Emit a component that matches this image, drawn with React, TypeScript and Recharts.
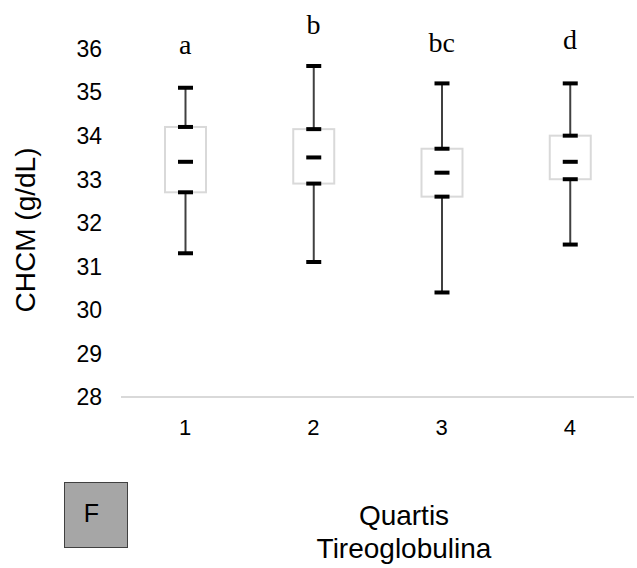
import React from "react";
import { ComposedChart, Bar, Scatter, XAxis, YAxis } from "recharts";

const categories = ["1", "2", "3", "4"];
const minValues = [31.3, 31.1, 30.4, 31.5];
const q1Values = [32.7, 32.9, 32.6, 33.0];
const medianValues = [33.4, 33.5, 33.15, 33.4];
const q3Values = [34.2, 34.15, 33.7, 34.0];
const maxValues = [35.1, 35.6, 35.2, 35.2];
const letters = ["a", "b", "bc", "d"];
const letterY = [35.87, 36.33, 35.91, 35.99];
const yTicks = [28, 29, 30, 31, 32, 33, 34, 35, 36];

const data = categories.map((c, i) => ({
  cat: c,
  min: minValues[i],
  q1: q1Values[i],
  median: medianValues[i],
  q3: q3Values[i],
  max: maxValues[i],
  letter: letters[i],
  letterY: letterY[i],
}));

const BoxShape = (props: any) => {
  const { x, y, width, height, payload } = props;
  if (!payload) return null;
  const top = Math.min(y, y + height);
  const h = Math.abs(height);
  const { min, max, q1, q3, median } = payload;
  const py = (v: number) => top + ((max - v) / (max - min)) * h;
  const cx = x + width / 2;
  const capW = 15;
  const cap = (v: number, key: string) => (
    <line key={key} x1={cx - capW / 2} x2={cx + capW / 2} y1={py(v)} y2={py(v)} stroke="#000" strokeWidth={4} />
  );
  return (
    <g>
      <rect x={x} y={py(q3)} width={width} height={py(q1) - py(q3)} fill="#fff" stroke="#d9d9d9" strokeWidth={2} />
      <line x1={cx} x2={cx} y1={py(max)} y2={py(q3)} stroke="#404040" strokeWidth={2} />
      <line x1={cx} x2={cx} y1={py(q1)} y2={py(min)} stroke="#404040" strokeWidth={2} />
      {cap(max, "max")}
      {cap(q3, "q3")}
      {cap(median, "med")}
      {cap(q1, "q1")}
      {cap(min, "min")}
    </g>
  );
};

const LetterShape = (props: any) => {
  const { cx, cy, payload } = props;
  return (
    <text x={cx} y={cy} textAnchor="middle" fontFamily="'Liberation Serif', 'Times New Roman', serif" fontSize={28} fill="#000">
      {payload.letter}
    </text>
  );
};

const YTick = (props: any) => {
  const { x, y, payload } = props;
  return (
    <text x={x} y={y} dy="0.36em" textAnchor="end" fontFamily="'Liberation Sans', Arial, sans-serif" fontSize={23} fill="#000">
      {payload.value}
    </text>
  );
};

const XTick = (props: any) => {
  const { x, y, payload } = props;
  return (
    <text x={x} y={y + 30} textAnchor="middle" fontFamily="'Liberation Sans', Arial, sans-serif" fontSize={22} fill="#000">
      {payload.value}
    </text>
  );
};

const XTitle = () => (
  <g>
    <rect x={64.5} y={482.5} width={63} height={65} fill="#a6a6a6" stroke="#404040" strokeWidth={1} />
    <text x={91.5} y={522} textAnchor="middle" fontFamily="'Liberation Sans', Arial, sans-serif" fontSize={25} fill="#000">
      F
    </text>
    <text x={404} y={525} textAnchor="middle" fontFamily="'Liberation Sans', Arial, sans-serif" fontSize={28} fill="#000">
      Quartis
    </text>
    <text x={404} y={558} textAnchor="middle" fontFamily="'Liberation Sans', Arial, sans-serif" fontSize={28} fill="#000">
      Tireoglobulina
    </text>
  </g>
);

const YTitle = () => (
  <text
    x={35}
    y={230}
    transform="rotate(-90, 35, 230)"
    textAnchor="middle"
    fontFamily="'Liberation Sans', Arial, sans-serif"
    fontSize={28}
    fill="#000"
  >
    CHCM (g/dL)
  </text>
);

export default function App() {
  return (
    <div style={{ position: "absolute", left: 0, top: 0, width: 637, height: 568, background: "#fff" }}>
      <ComposedChart width={637} height={568} data={data} margin={{ top: 5, right: 3, left: 0, bottom: 0 }}>
        <XAxis
          dataKey="cat"
          height={171}
          axisLine={{ stroke: "#d9d9d9", strokeWidth: 2 }}
          tickLine={false}
          tick={<XTick />}
          label={<XTitle />}
        />
        <YAxis
          width={121}
          domain={[28, 37]}
          ticks={yTicks}
          type="number"
          axisLine={false}
          tickLine={false}
          tickMargin={13}
          tick={<YTick />}
          label={<YTitle />}
          interval={0}
        />
        <Bar dataKey={(d: any) => [d.min, d.max]} barSize={41} shape={<BoxShape />} isAnimationActive={false} />
        <Scatter dataKey="letterY" shape={<LetterShape />} isAnimationActive={false} />
      </ComposedChart>
    </div>
  );
}
